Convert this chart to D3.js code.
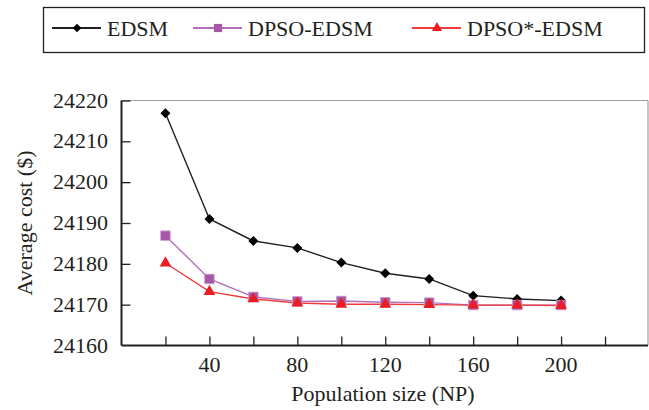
<!DOCTYPE html>
<html><head><meta charset="utf-8">
<script src="https://cdn.jsdelivr.net/npm/d3@7"></script>
<style>body{margin:0;background:#fff}</style>
</head><body><svg id="c" width="649" height="410" font-family="'Liberation Serif', 'DejaVu Serif', serif"></svg>
<script>
const popSizes = [20,40,60,80,100,120,140,160,180,200];
const edsm     = [24216.9,24191.0,24185.6,24183.9,24180.3,24177.7,24176.3,24172.2,24171.4,24171.0];
const dpso     = [24186.9,24176.3,24171.9,24170.8,24170.9,24170.6,24170.5,24169.9,24169.9,24169.9];
const dpsoStar = [24180.2,24173.2,24171.4,24170.4,24170.1,24170.1,24170.0,24169.9,24169.9,24169.8];
const seriesNames = ["EDSM","DPSO-EDSM","DPSO*-EDSM"];
const xTicks = [20,40,60,80,100,120,140,160,180,200,220];
const xLabels = [40,80,120,160,200];
const yTicks = [24160,24170,24180,24190,24200,24210,24220];

const FONT = "'Liberation Serif', 'Times New Roman', 'DejaVu Serif', serif";
const TXT = "#231f20";
const svg = d3.select("#c");
const L=121.5, R=648, T=100.5, B=345.5;
const x = d3.scaleLinear().domain([0,240]).range([L,R+1]);
const y = d3.scaleLinear().domain([24160,24220]).range([B,T]);

// frame top/right gray
svg.append("line").attr("x1",L).attr("x2",R).attr("y1",T).attr("y2",T).attr("stroke","#a0a0a0").attr("stroke-width",1.2);
svg.append("line").attr("x1",R).attr("x2",R).attr("y1",T).attr("y2",B).attr("stroke","#a0a0a0").attr("stroke-width",1.2);

// x axis
const xa = svg.append("g").attr("transform",`translate(0,${B})`)
  .call(d3.axisBottom(x).tickValues(xTicks).tickSize(-9).tickFormat(""));
xa.select(".domain").attr("d",`M${L},0H${R}`).attr("stroke",TXT).attr("stroke-width",2);
xa.selectAll(".tick line").attr("stroke",TXT).attr("stroke-width",1.3);
svg.append("g").selectAll("text").data(xLabels).join("text")
  .attr("x",d=>x(d)).attr("y",372).attr("text-anchor","middle")
  .attr("font-family",FONT).attr("font-size",22).attr("fill",TXT).text(d=>d);

// y axis
const ya = svg.append("g").attr("transform",`translate(${L},0)`)
  .call(d3.axisLeft(y).tickValues(yTicks).tickSize(-9).tickFormat(""));
ya.select(".domain").attr("d",`M0,${T}V${B}`).attr("stroke",TXT).attr("stroke-width",2);
ya.selectAll(".tick line").attr("stroke",TXT).attr("stroke-width",1.3);
ya.selectAll(".tick").filter(d=>d===24160).select("line").remove();
svg.append("g").selectAll("text").data(yTicks).join("text")
  .attr("x",108).attr("y",d=>y(d)+7).attr("text-anchor","end")
  .attr("font-family",FONT).attr("font-size",22).attr("fill",TXT).text(d=>d);

// titles
svg.append("text").attr("x",383).attr("y",401).attr("text-anchor","middle")
  .attr("font-family",FONT).attr("font-size",22).attr("fill",TXT).text("Population size (NP)");
svg.append("text").attr("transform","translate(32,223) rotate(-90)").attr("text-anchor","middle")
  .attr("font-family",FONT).attr("font-size",22).attr("fill",TXT).text("Average cost ($)");

const series = [
  {name:seriesNames[0], vals:edsm, line:"#231f20", fill:"#000", sym:d3.symbolSquare, rot:45, size:50},
  {name:seriesNames[1], vals:dpso, line:"#b36fba", fill:"#a657a6", sym:d3.symbolSquare, rot:0, size:90},
  {name:seriesNames[2], vals:dpsoStar, line:"#ef3b3b", fill:"#ec1c24", sym:d3.symbolTriangle, rot:0, size:60}
];
const lineGen = d3.line().x((d,i)=>x(popSizes[i])).y(d=>y(d));
series.forEach(s=>{
  svg.append("path").datum(s.vals).attr("d",lineGen).attr("fill","none").attr("stroke",s.line).attr("stroke-width",1.4);
});
series.forEach(s=>{
  svg.append("g").selectAll("path").data(s.vals).join("path")
    .attr("transform",(d,i)=>`translate(${x(popSizes[i])},${y(d)}) rotate(${s.rot})`)
    .attr("d",d3.symbol().type(s.sym).size(s.size)).attr("fill",s.fill)
    .attr("stroke", s.rot===0 && s.sym===d3.symbolSquare ? "#c79ccb" : "none").attr("stroke-width",0.8);
});

// legend
svg.append("rect").attr("x",43.5).attr("y",7.5).attr("width",601).attr("height",45).attr("fill","none").attr("stroke",TXT).attr("stroke-width",1.3);
const legX = [52,193,412];
series.forEach((s,i)=>{
  const g = svg.append("g").attr("transform",`translate(${legX[i]},28)`);
  g.append("line").attr("x1",0).attr("x2",49).attr("stroke",s.line).attr("stroke-width",2);
  g.append("path").attr("transform",`translate(25,0) rotate(${s.rot})`).attr("d",d3.symbol().type(s.sym).size(s.size*0.75)).attr("fill",s.fill);
  g.append("text").attr("x",55).attr("y",8).attr("font-family",FONT).attr("font-size",22).attr("fill",TXT).text(s.name);
});
</script></body></html>
